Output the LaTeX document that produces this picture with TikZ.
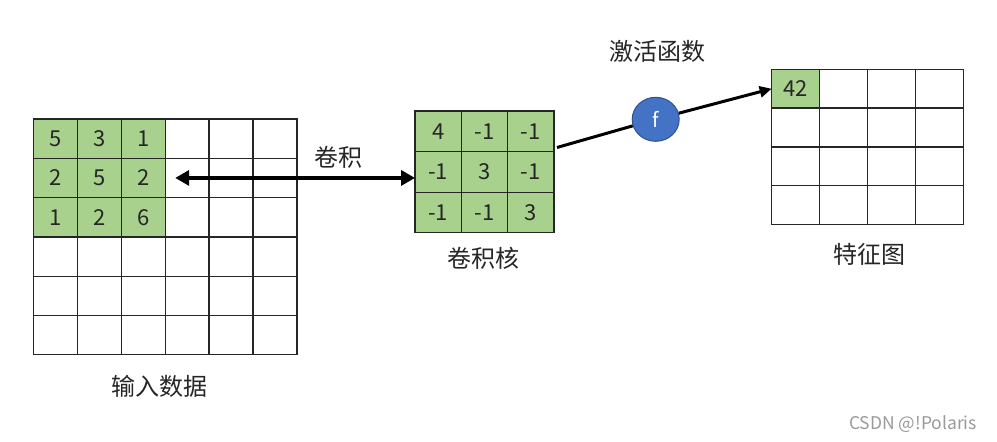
\documentclass[tikz,border=0pt]{standalone}
\usepackage{fontspec}
\newfontfamily\cjk{Noto Sans CJK SC}
\usetikzlibrary{arrows.meta,shapes.geometric,positioning}

\definecolor{cellgreen}{HTML}{A9D18E}
\definecolor{fblue}{HTML}{4472C4}
\definecolor{fedge}{HTML}{2F528F}

\tikzset{
  cell/.style={draw=black!85,line width=1.3pt,inner sep=0pt,outer sep=0pt,
    font=\cjk\fontsize{22}{22}\selectfont,text=black!85},
  incell/.style={cell,minimum width=43.9pt,minimum height=39.3pt},
  kercell/.style={cell,fill=cellgreen,minimum width=46.3pt,minimum height=40.6pt},
  fmcell/.style={cell,minimum width=47.9pt,minimum height=38.8pt},
  lbl/.style={font=\cjk\fontsize{24}{24}\selectfont,inner sep=0pt,text=black!85},
  fnode/.style={ellipse,fill=fblue,draw=fedge,line width=1pt,text=white,
    minimum width=47pt,minimum height=44pt,inner sep=0pt,
    font=\cjk\fontsize{20}{20}\selectfont},
  biarrow/.style={line width=4pt,{Triangle[length=14pt,width=15pt]}-{Triangle[length=14pt,width=15pt]}},
  link/.style={line width=3pt},
  linkarrow/.style={link,-{Triangle[length=12pt,width=11pt]}}
}

\begin{document}
\begin{tikzpicture}[x=1pt,y=-1pt]
  \useasboundingbox (0,0) rectangle (997,442);

  % input data
  \foreach \r in {1,...,6}
    \foreach \c in {1,...,6}
      \node[incell] (in-\r-\c) at ({33.5+43.9*(\c-0.5)},{119+39.3*(\r-0.5)}) {};
  \foreach \r/\c/\v in {1/1/5,1/2/3,1/3/1,2/1/2,2/2/5,2/3/2,3/1/1,3/2/2,3/3/6}
    \node[incell,fill=cellgreen] (inv-\r-\c) at (in-\r-\c) {\v};

  % kernel
  \foreach \r/\c/\v in {1/1/4,1/2/-1,1/3/-1,2/1/-1,2/2/3,2/3/-1,3/1/-1,3/2/-1,3/3/3}
    \node[kercell] (ker-\r-\c) at ({415+46.3*(\c-0.5)},{111+40.6*(\r-0.5)}) {\v};

  % feature map
  \foreach \r in {1,...,4}
    \foreach \c in {1,...,4}
      \node[fmcell] (fmap-\r-\c) at ({771.7+47.9*(\c-0.5)},{69.3+38.8*(\r-0.5)}) {};
  \node[fmcell,fill=cellgreen] (fv) at (fmap-1-1) {42};

  % activation
  \node[fnode] (f) at (655.7,119.3) {f};
  \coordinate (kout) at (557,147.5);

  \draw[biarrow] ([xshift=10pt]in-2-3.east) -- (in-2-3.east -| ker-2-1.west);
  \draw[link] (kout) -- (f);
  \draw[linkarrow] (f) -- (fmap-1-1.west);

  % labels
  \node[lbl] (conv) at (338,157) {卷积};
  \node[lbl] (kerlbl) at (483,258) {卷积核};
  \node[lbl] (act) at (657,51) {激活函数};
  \node[lbl] (fmlbl) at (869,254) {特征图};
  \node[lbl] (inlbl) at (159,386) {输入数据};
  \node[font=\cjk\fontsize{17.5}{17.5}\selectfont,text=black!40,inner sep=0pt] (mark) at (913,424) {CSDN @!Polaris};
\end{tikzpicture}
\end{document}
